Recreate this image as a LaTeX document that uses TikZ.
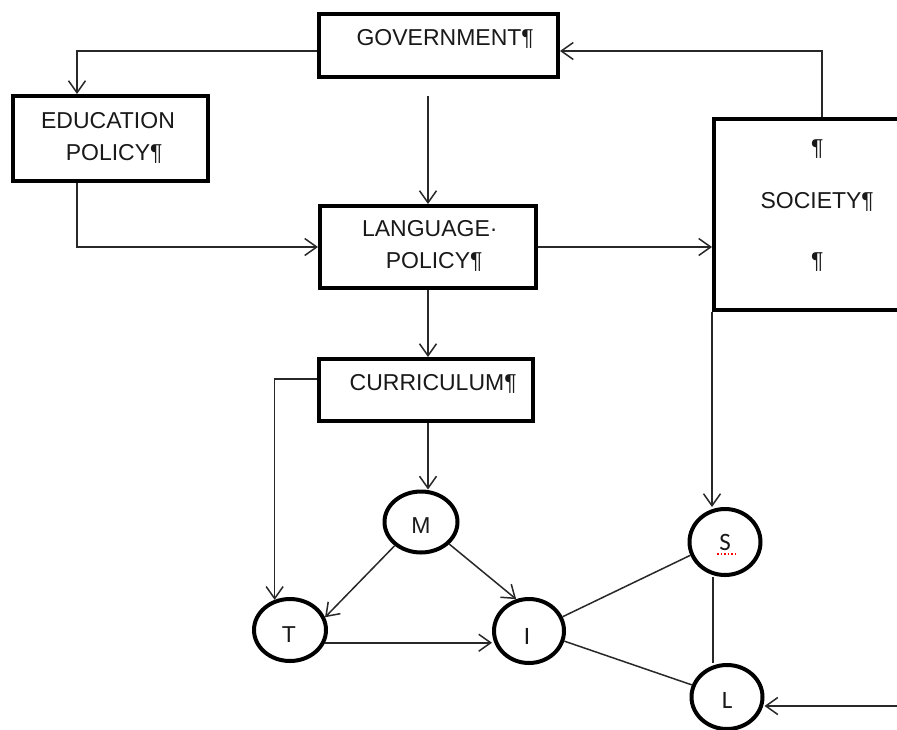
\documentclass[tikz,border=0pt]{standalone}
\usepackage{fontspec}
\setmainfont{Liberation Sans}
\newfontfamily\calib{Carlito}
\usetikzlibrary{arrows.meta,shapes.geometric}
\definecolor{ink}{RGB}{25,25,25}
\definecolor{wire}{RGB}{40,40,40}
\begin{document}
\begin{tikzpicture}[x=1pt,y=-1pt,
  box/.style={draw=black,line width=4pt,rectangle,inner sep=0pt},
  bubble/.style={draw=black,line width=4pt,ellipse,inner sep=0pt},
  lbl/.style={anchor=base,inner sep=0pt,text=ink,font=\fontsize{23}{28}\selectfont},
  letter/.style={anchor=base,inner sep=0pt,text=ink,font=\fontsize{23}{27}\selectfont},
  cletter/.style={anchor=base,inner sep=0pt,text=ink,font=\calib\fontsize{25}{30}\selectfont},
  arr/.style={draw=wire,line width=1.5pt,-{Straight Barb[length=12pt,width=17pt]}},
  link/.style={draw=wire,line width=1.5pt}]

\useasboundingbox (0,0) rectangle (897,729);
\fill[white] (0,0) rectangle (897,729);

% ---- boxes ----
\node[box,minimum width=239pt,minimum height=63pt] (gov) at (438.5,45.5) {};
\node[box,minimum width=195pt,minimum height=85pt] (edu) at (110.5,138.5) {};
\node[box,minimum width=216pt,minimum height=82pt] (lang) at (428,247) {};
\node[box,minimum width=210pt,minimum height=191pt] (soc) at (819,214.5) {};
\node[box,minimum width=214pt,minimum height=62pt] (cur) at (426,390) {};

% ---- box texts ----
\node[lbl] (govtxt) at (439,45.5) {GOVERNMENT\rlap{¶}};
\node[lbl] (edutxtA) at (108,128) {EDUCATION};
\node[lbl] (edutxtB) at (108,160) {POLICY\rlap{¶}};
\node[lbl] (langtxtA) at (426,236.5) {LANGUAGE\rlap{·}};
\node[lbl] (langtxtB) at (428,268) {POLICY\rlap{¶}};
\node[lbl] (soctxtA) at (811,155) {\rlap{¶}};
\node[lbl] (soctxtB) at (811,208) {SOCIETY\rlap{¶}};
\node[lbl] (soctxtC) at (811,268) {\rlap{¶}};
\node[lbl] (curtxt) at (427,390) {CURRICULUM\rlap{¶}};

% ---- circles ----
\node[bubble,minimum width=73pt,minimum height=61pt] (M) at (421,522) {};
\node[bubble,minimum width=72pt,minimum height=62pt] (T) at (290,630) {};
\node[bubble,minimum width=70pt,minimum height=64pt] (I) at (529,631) {};
\node[bubble,minimum width=71pt,minimum height=66pt] (S) at (725,542) {};
\node[bubble,minimum width=71pt,minimum height=64pt] (L) at (727,697) {};

\node[letter] (Mtxt) at (421,533) {M};
\node[letter] (Ttxt) at (289,642) {T};
\node[cletter] (Itxt) at (527,644) {I};
\node[cletter] (Stxt) at (725,550) {S};
\node[cletter] (Ltxt) at (727,708) {L};
% spell-check mark under S
\draw[red,line width=1.2pt,dash pattern=on 1.5pt off 2pt] (717,554) -- (736,554);

% ---- routing points ----
\coordinate (c1) at (77,51);
\coordinate (g1) at (428,96);
\coordinate (c3) at (822,51);
\coordinate (c4) at (428,0);
\coordinate (c5) at (273,379);
\coordinate (c6) at (713,0);
\coordinate (c7) at (900,706);

% ---- connectors ----
\draw[arr] (gov.west |- c1) -| (c1 |- edu.north);
\draw[arr] (g1) -- (g1 |- lang.north);
\draw[arr] (c1 |- edu.south) |- (lang.west);
\draw[arr] (lang.east) -- (lang.east -| soc.west);
\draw[arr] (c3 |- soc.north) |- (gov.east |- c3);
\draw[arr] (c4 |- lang.south) -- (c4 |- cur.north);
\draw[arr] (c4 |- cur.south) -- (c4 |- M.north);
\draw[arr] (cur.west |- c5) -| (T.117);
\draw[arr] (M.222) -- (T.20);
\draw[arr] (M.322) -- (I.112);
\draw[arr] (T.-20) -- (T.-20 -| I.west);
\draw[link] (I.23) -- (S.201);
\draw[link] (I.344) -- (L.161);
\draw[link] (c6 |- S.south) -- (c6 |- L.north);
\draw[arr] (soc.south west) -- (soc.south west |- S.north);
\draw[arr] (c7) -- (c7 -| L.east);
\end{tikzpicture}
\end{document}
